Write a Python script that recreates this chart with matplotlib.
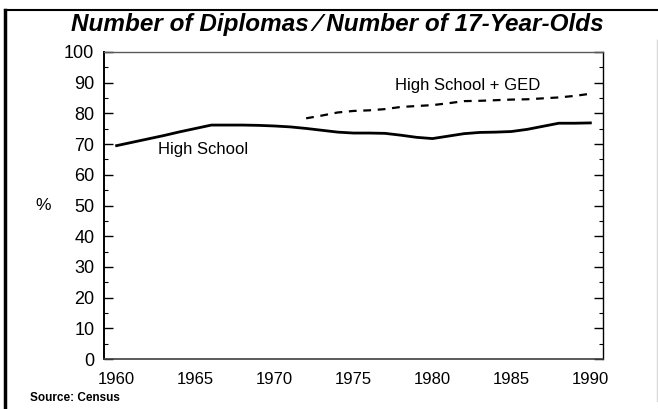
import matplotlib
matplotlib.use("Agg")
import matplotlib.pyplot as plt
from matplotlib.lines import Line2D
from matplotlib.ticker import MultipleLocator

plt.rcParams['font.family'] = ['Liberation Sans', 'DejaVu Sans']

# high school diplomas / 17-year-olds, percent
hs_years = list(range(1960, 1991))
hs_values = [69.5, 70.6, 71.7, 72.8, 74.0, 75.1, 76.2, 76.2, 76.2, 76.1,
             75.9, 75.6, 75.1, 74.5, 73.9, 73.6, 73.6, 73.5, 72.9, 72.2,
             71.8, 72.6, 73.4, 73.8, 73.9, 74.1, 74.8, 75.8, 76.8, 76.8,
             76.9]

# high school + GED
ged_years = list(range(1972, 1991))
ged_values = [78.4, 79.3, 80.3, 80.8, 81.0, 81.4, 82.1, 82.4, 82.7, 83.3,
              84.0, 84.1, 84.3, 84.5, 84.6, 84.9, 85.2, 85.7, 86.4]

x_ticks = [1960, 1965, 1970, 1975, 1980, 1985, 1990]

fig = plt.figure(figsize=(6.58, 4.09), dpi=100)
ax = fig.add_axes([104 / 658, 50 / 409, 499 / 658, 307 / 409])

ax.plot(hs_years, hs_values, color='black', lw=2)
ax.plot(ged_years, ged_values, color='black', lw=1.6, dashes=(3.5, 3))

ax.set_xlim(1959.2, 1990.8)
ax.set_ylim(0, 100)
ax.set_xticks(x_ticks)
ax.yaxis.set_major_locator(MultipleLocator(10))
ax.yaxis.set_minor_locator(MultipleLocator(5))
ax.tick_params(axis='x', length=0, pad=9, labelsize=12)
ax.tick_params(axis='y', which='major', direction='in', length=6.5, width=1,
               right=True, labelsize=13, pad=7)
ax.tick_params(axis='y', which='minor', direction='in', length=3, width=0.8,
               right=True)

ax.spines['left'].set_linewidth(1.4)
ax.spines['right'].set_linewidth(1)
ax.spines['top'].set_linewidth(1)
ax.spines['top'].set_color('0.35')
ax.spines['bottom'].set_linewidth(1.2)
ax.spines['bottom'].set_color('0.25')

ax.text(1962.6, 68.1, 'High School', fontsize=12, va='center')
ax.text(1977.6, 89.2, 'High School + GED', fontsize=12, va='center')

fig.text(43 / 658, 1 - 206 / 409, '%', fontsize=12.5, ha='center', va='center')
fig.text(0.513, 1 - 25 / 409, 'Number of Diplomas \u2044 Number of 17-Year-Olds',
         fontsize=17.5, fontweight='bold', fontstyle='italic',
         ha='center', va='center')
fig.text(30 / 658, 11 / 409, 'Source: Census', fontsize=8.5,
         fontweight='bold', va='center')

# outer frame of the slide
fig.add_artist(Line2D([5 / 658, 5 / 658], [0, 1 - 10 / 409],
                      color='black', lw=2.5))
fig.add_artist(Line2D([5 / 658, 1], [1 - 10 / 409, 1 - 10 / 409],
                      color='black', lw=1.5))
fig.add_artist(Line2D([656.5 / 658, 656.5 / 658], [0.02, 1 - 40 / 409],
                      color='0.85', lw=1))

fig.savefig('out.png', dpi=100)
